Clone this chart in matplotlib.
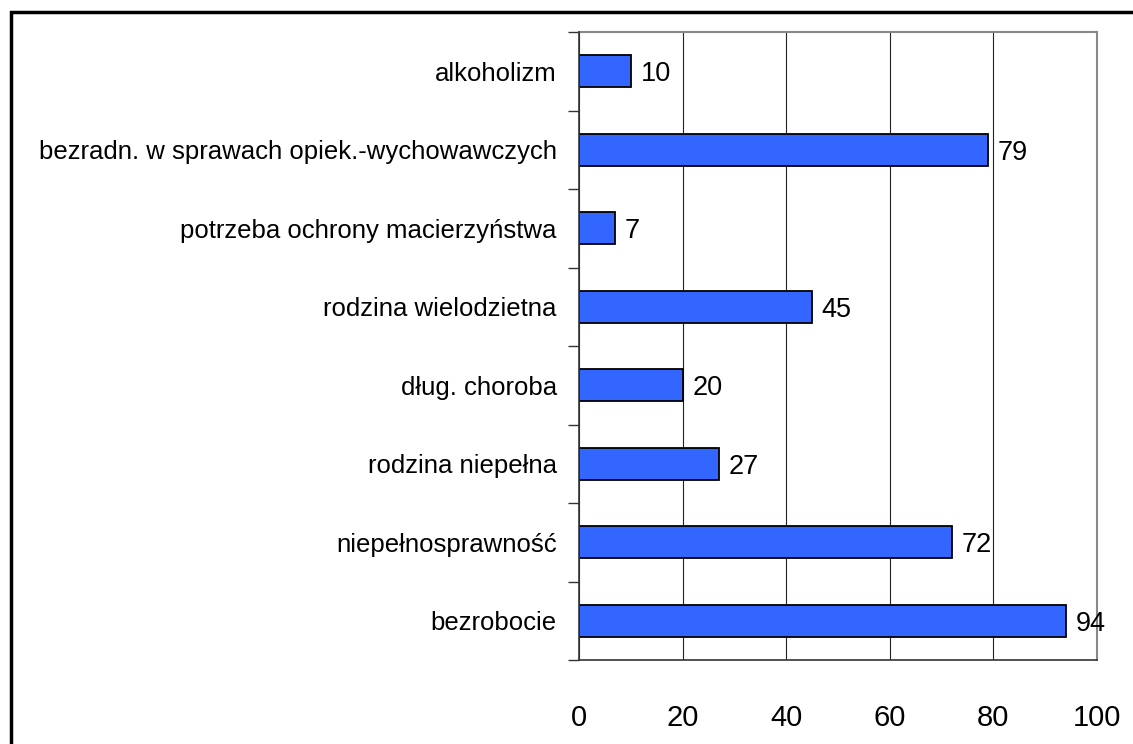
import matplotlib
matplotlib.use("Agg")
import matplotlib.pyplot as plt
from matplotlib.patches import Rectangle

categories = ["alkoholizm",
              "bezradn. w sprawach opiek.-wychowawczych",
              "potrzeba ochrony macierzyństwa",
              "rodzina wielodzietna",
              "dług. choroba",
              "rodzina niepełna",
              "niepełnosprawność",
              "bezrobocie"]
values = [10, 79, 7, 45, 20, 27, 72, 94]
xticks = [0, 20, 40, 60, 80, 100]

plt.rcParams['font.family'] = ['Liberation Sans', 'DejaVu Sans']

W, H = 1133, 744
fig = plt.figure(figsize=(W / 100, H / 100), dpi=100)
# plot area: x 579..1097, y 32..660
ax = fig.add_axes([579 / W, 1 - 660 / H, (1097 - 579) / W, (660 - 32) / H])

n = len(categories)
ypos = list(range(n))[::-1]
ax.barh(ypos, values, height=0.41, color="#3366FF", edgecolor="black", linewidth=1.3, zorder=3)
for y, v in zip(ypos, values):
    ax.annotate(str(v), (v, y), xytext=(7, -2), textcoords="offset points",
                ha="left", va="center", fontsize=19.5, color="black", zorder=4)

ax.set_xlim(0, 100)
ax.set_ylim(-0.5, n - 0.5)
ax.set_xticks(xticks)
ax.set_xticklabels([str(t) for t in xticks], fontsize=21)
ax.set_yticks(ypos)
ax.set_yticklabels(categories, fontsize=18.5)
ax.tick_params(axis="y", length=0, pad=16)
ax.tick_params(axis="x", length=0, pad=32)
# minor ticks at category boundaries
ax.set_yticks([i - 0.5 for i in range(n + 1)], minor=True)
ax.tick_params(axis="y", which="minor", length=8, width=1, color="#333333")
ax.set_xticks(xticks, minor=True)
ax.tick_params(axis="x", which="minor", length=10, width=1, color="#333333")

ax.grid(axis="x", color="#222222", linewidth=0.8, zorder=0)
for s in ["top", "right"]:
    ax.spines[s].set_color("#888888")
    ax.spines[s].set_linewidth(1.5)
for s in ["left", "bottom"]:
    ax.spines[s].set_color("#333333")
    ax.spines[s].set_linewidth(1.2)
    ax.spines[s].set_zorder(5)

# outer black frame
fig.patches.append(Rectangle((11 / W, -0.1), 1.2, 1 - 12 / H + 0.1,
                             transform=fig.transFigure, fill=False,
                             edgecolor="black", linewidth=2.5))

fig.savefig("out.png", dpi=100)
